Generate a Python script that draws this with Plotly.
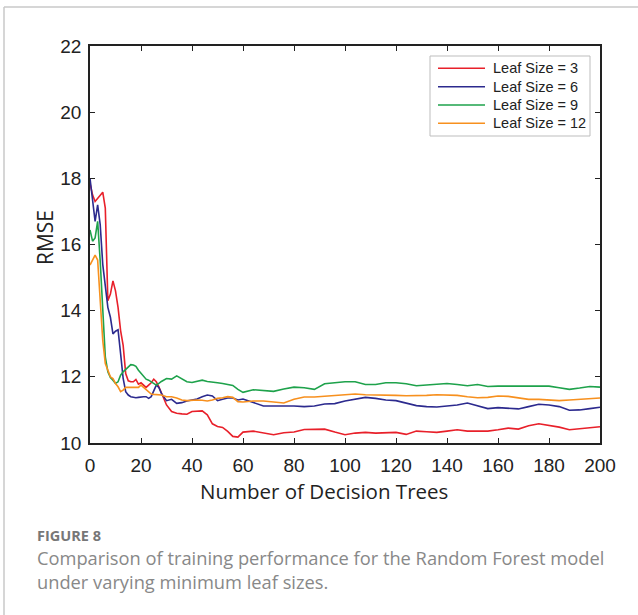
import plotly.graph_objects as go

trees = [0,1,2,3,4,5,6,7,8,9,10,11,12,13,14,15,16,17,18,19,20,21,22,23,24,25,26,27,28,
         30,32,34,36,38,40,42,44,46,48,50,52,54,56,58,60,
         64,68,72,76,80,84,88,92,96,100,104,108,112,116,120,124,128,132,136,140,
         144,148,152,156,160,164,168,172,176,180,184,188,192,196,200]

rmse_leaf3 = [17.85,17.5,17.3,17.4,17.5,17.58,17.1,14.3,14.5,14.9,14.6,14.1,13.4,12.95,12.1,11.88,11.85,11.85,11.92,11.78,11.82,11.75,11.68,11.75,11.82,11.93,11.85,11.7,11.5,
              11.15,10.95,10.9,10.88,10.87,10.95,10.96,10.97,10.85,10.58,10.5,10.47,10.35,10.2,10.18,10.33,
              10.36,10.3,10.25,10.31,10.33,10.41,10.42,10.42,10.33,10.25,10.3,10.32,10.3,10.3,10.32,10.26,10.36,10.34,10.32,10.36,
              10.4,10.36,10.37,10.36,10.4,10.45,10.42,10.52,10.58,10.53,10.48,10.4,10.43,10.46,10.49]

rmse_leaf6 = [18.0,17.3,16.7,17.2,16.6,15.4,14.7,14.1,13.8,13.3,13.38,13.42,12.7,11.95,11.55,11.45,11.4,11.38,11.37,11.38,11.4,11.4,11.4,11.35,11.4,11.6,11.75,11.68,11.5,
              11.28,11.32,11.2,11.22,11.27,11.3,11.33,11.4,11.45,11.42,11.28,11.32,11.36,11.36,11.3,11.33,
              11.23,11.12,11.12,11.13,11.12,11.1,11.12,11.18,11.19,11.27,11.33,11.38,11.35,11.3,11.28,11.2,11.13,11.1,11.09,11.12,
              11.15,11.21,11.13,11.04,11.07,11.05,11.03,11.1,11.17,11.15,11.1,10.99,11.0,11.04,11.08]

rmse_leaf9 = [16.44,16.1,16.2,16.7,15.5,14.1,12.6,12.15,11.98,11.9,11.8,11.85,12.05,12.15,12.23,12.3,12.37,12.36,12.32,12.2,12.1,12.0,11.93,11.9,11.85,11.8,11.75,11.8,11.86,
              11.95,11.93,12.03,11.95,11.85,11.83,11.87,11.9,11.86,11.83,11.82,11.8,11.78,11.74,11.62,11.53,
              11.61,11.59,11.56,11.63,11.69,11.67,11.62,11.79,11.82,11.85,11.85,11.77,11.77,11.82,11.82,11.79,11.73,11.76,11.78,11.8,
              11.77,11.73,11.77,11.71,11.72,11.72,11.71,11.72,11.73,11.72,11.67,11.62,11.66,11.71,11.69]

rmse_leaf12 = [15.38,15.55,15.68,15.53,14.3,13.1,12.4,12.2,12.0,11.95,11.8,11.7,11.55,11.6,11.68,11.68,11.68,11.68,11.68,11.68,11.75,11.68,11.6,11.52,11.48,11.47,11.47,11.47,11.45,
               11.4,11.4,11.36,11.3,11.28,11.3,11.3,11.29,11.27,11.3,11.35,11.37,11.4,11.38,11.25,11.24,
               11.27,11.27,11.23,11.21,11.32,11.39,11.39,11.41,11.43,11.45,11.48,11.46,11.46,11.46,11.44,11.43,11.43,11.44,11.46,11.46,
               11.44,11.4,11.37,11.38,11.42,11.41,11.36,11.32,11.32,11.31,11.28,11.3,11.32,11.34,11.36]

series_names = ["Leaf Size = 3", "Leaf Size = 6", "Leaf Size = 9", "Leaf Size = 12"]
series_values = [rmse_leaf3, rmse_leaf6, rmse_leaf9, rmse_leaf12]
series_colors = ["#e8202a", "#2c2a8e", "#1ea24b", "#f7901e"]

x_ticks = list(range(0, 201, 20))
y_ticks = list(range(10, 23, 2))

# plot area in pixels (for placing page furniture)
L, R, T, B = 90, 600, 46, 443
def px(xp):
    return (xp - L) / (R - L)
def py(yp):
    return (B - yp) / (B - T)

fig = go.Figure()
for name, vals, col in zip(series_names, series_values, series_colors):
    fig.add_trace(go.Scatter(x=trees, y=vals, mode="lines", name=name,
                             line=dict(color=col, width=1.6), showlegend=False))

axis_common = dict(showline=True, linecolor="#222", linewidth=1.5, mirror="ticks",
                   ticks="inside", ticklen=5, tickwidth=1.2, tickcolor="#222",
                   showgrid=False, zeroline=False,
                   tickfont=dict(family="Liberation Sans, Arial", size=19, color="#222"))

fig.update_xaxes(range=[0, 200], tickvals=x_ticks, ticklabelstandoff=4, **axis_common)
fig.update_yaxes(range=[10, 22], tickvals=y_ticks, ticklabelstandoff=3, **axis_common)

shapes = [
    dict(type="line", xref="paper", yref="paper",
         x0=px(4), x1=px(638), y0=py(7), y1=py(7),
         line=dict(color="#c8c8c8", width=1.5)),
    dict(type="line", xref="paper", yref="paper",
         x0=px(4), x1=px(4), y0=py(7), y1=py(615),
         line=dict(color="#c8c8c8", width=1.5)),
    # legend box
    dict(type="rect", xref="paper", yref="paper",
         x0=px(430), x1=px(590), y0=py(56), y1=py(136),
         line=dict(color="#bdbdbd", width=1), fillcolor="white", layer="above"),
]
caption = ("<span style='font-size:14.5px;color:#777'><b>FIGURE 8</b></span><br>"
           "Comparison of training performance for the Random Forest model<br>"
           "under varying minimum leaf sizes.")
annotations = [
    dict(text="Number of Decision Trees", xref="paper", yref="paper",
         x=px(323.5), y=py(491), xanchor="center", yanchor="middle", showarrow=False,
         font=dict(family="Open Sans", size=20.5, color="#222")),
    dict(text="RMSE", xref="paper", yref="paper", textangle=-90,
         x=px(45), y=py(238), xanchor="center", yanchor="middle", showarrow=False,
         font=dict(family="Open Sans", size=21, color="#222")),
    dict(text=caption, xref="paper", yref="paper",
         x=px(35), y=py(524), xanchor="left", yanchor="top", align="left",
         showarrow=False, font=dict(family="Open Sans", size=18.3, color="#888")),
]
# legend entries
row_y = [68.3, 86.7, 105, 123.3]
for name, col, ry in zip(series_names, series_colors, row_y):
    shapes.append(dict(type="line", xref="paper", yref="paper",
                       x0=px(438), x1=px(485), y0=py(ry), y1=py(ry),
                       line=dict(color=col, width=1.5), layer="above"))
    annotations.append(dict(text=name, xref="paper", yref="paper",
                            x=px(491), y=py(ry), xanchor="left", yanchor="middle",
                            showarrow=False,
                            font=dict(family="Liberation Sans, Arial", size=14.5, color="#222")))

fig.update_layout(
    width=638, height=615,
    margin=dict(l=L, r=638 - R, t=T, b=615 - B),
    plot_bgcolor="white", paper_bgcolor="white",
    showlegend=False,
    shapes=shapes,
    annotations=annotations,
)

fig.write_html("out.html")
